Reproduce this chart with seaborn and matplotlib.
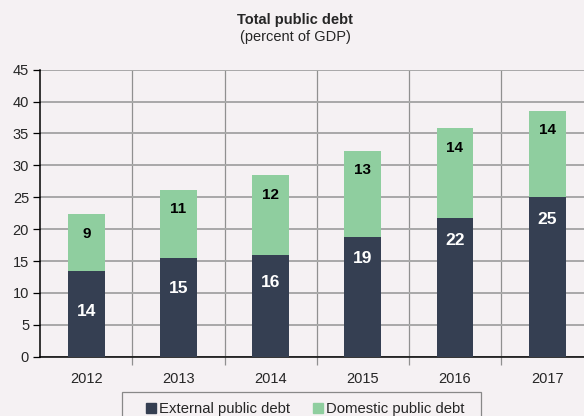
import pandas as pd
import numpy as np
import matplotlib.pyplot as plt
import seaborn as sns

# ==========================================
# datos (porcentaje del PIB)
# ==========================================
years = ['2012', '2013', '2014', '2015', '2016', '2017']
external = [13.5, 15.4, 15.9, 18.8, 21.8, 25.0]
domestic = [8.9, 10.8, 12.6, 13.5, 14.1, 13.6]
external_labels = ['14', '15', '16', '19', '22', '25']
domestic_labels = ['9', '11', '12', '13', '14', '14']
y_ticks = [0, 5, 10, 15, 20, 25, 30, 35, 40, 45]

df = pd.DataFrame({'year': years, 'external': external, 'domestic': domestic})
df['total'] = df['external'] + df['domestic']

# posicion de las etiquetas (cuanto bajan desde el tope del segmento)
ext_drop = [6.4, 4.7, 4.3, 3.4, 3.6, 3.5]
dom_drop = 3.1

bg = '#f5f1f3'
dark = '#353f52'
green = '#8fce9f'

sns.set_style('white')
plt.rcParams['font.family'] = ['Liberation Sans', 'DejaVu Sans']

fig = plt.figure(figsize=(5.84, 4.16), dpi=100, facecolor=bg)
ax = fig.add_axes([40.2 / 584, 59.3 / 416, 553 / 584, 287 / 416])
ax.set_facecolor(bg)

sns.barplot(data=df, x='year', y='total', order=years, color=green, width=0.4,
            saturation=1, linewidth=0, ax=ax, zorder=3)
sns.barplot(data=df, x='year', y='external', order=years, color=dark, width=0.4,
            saturation=1, linewidth=0, ax=ax, zorder=3)

for i in range(len(years)):
    ax.text(i, df['external'][i] - ext_drop[i], external_labels[i], ha='center', va='center',
            color='white', fontsize=12.5, fontweight='bold', zorder=4)
    ax.text(i, df['total'][i] - dom_drop, domestic_labels[i], ha='center', va='center',
            color='black', fontsize=11, fontweight='bold', zorder=4)

ax.set_xlim(-0.5, len(years) - 0.5)
ax.set_ylim(0, 45)
ax.set_yticks(y_ticks)
ax.set_xticks(np.arange(len(years)) + 0.5, minor=True)
ax.set_xlabel('')
ax.set_ylabel('')

ax.yaxis.grid(True, color='#a8a8a8', linewidth=1.4, zorder=0)
ax.xaxis.grid(True, which='minor', color='#909090', linewidth=0.9, zorder=0)
ax.xaxis.grid(False, which='major')
ax.set_axisbelow(True)

ax.tick_params(axis='y', length=5, width=0.9, color='black', labelsize=10.5, pad=3, left=True)
ax.tick_params(axis='x', which='major', length=0, labelsize=10.5, pad=11)
ax.tick_params(axis='x', which='minor', length=6, width=0.9, color='#909090', bottom=True)

for s in ['top', 'right']:
    ax.spines[s].set_visible(False)
for s in ['left', 'bottom']:
    ax.spines[s].set_color('black')
    ax.spines[s].set_linewidth(1.1)

fig.text(295 / 584, 1 - 20 / 416, 'Total public debt', ha='center', va='center',
         fontsize=10.5, fontweight='bold')
fig.text(295 / 584, 1 - 37 / 416, '(percent of GDP)', ha='center', va='center', fontsize=10.5)

# marco de la leyenda (cortado por el borde inferior, como en el original)
frame = plt.Rectangle((122 / 584, -0.05), 359 / 584, (1 - 392 / 416) + 0.05,
                      transform=fig.transFigure, facecolor=bg, edgecolor='#888888',
                      linewidth=0.9, zorder=1)
fig.patches.append(frame)

handles = [plt.Rectangle((0, 0), 1, 1, color=dark), plt.Rectangle((0, 0), 1, 1, color=green)]
leg = fig.legend(handles, ['External public debt', 'Domestic public debt'], ncol=2,
                 loc='center left', bbox_to_anchor=(146 / 584, 1 - 409 / 416),
                 frameon=False, fontsize=10.7, handlelength=0.7,
                 handleheight=0.7, handletextpad=0.2, columnspacing=1.5,
                 borderpad=0, borderaxespad=0)

fig.savefig('out.png', dpi=100, facecolor=bg)
